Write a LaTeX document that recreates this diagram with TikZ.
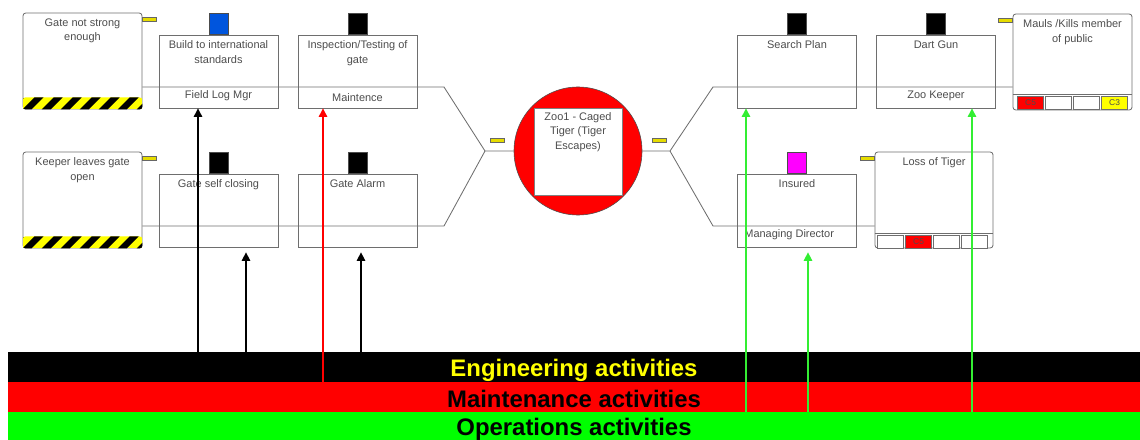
\documentclass[tikz,border=0pt]{standalone}
\usepackage{fontspec}
\setmainfont{Liberation Sans}
\usetikzlibrary{arrows.meta, positioning}
\definecolor{bline}{HTML}{6E6E6E}
\definecolor{btext}{HTML}{4D4D4D}
\definecolor{hyellow}{HTML}{FFFF00}
\definecolor{tabyellow}{HTML}{E6DC00}
\definecolor{bgreen}{HTML}{00FF00}
\definecolor{agreen}{HTML}{33EE33}
\definecolor{bred}{HTML}{FF0000}
\definecolor{iblue}{HTML}{0055DD}
\definecolor{imag}{HTML}{FF00FF}
\tikzset{
  box/.style={draw=bline, line width=0.6pt, minimum width=2.975cm,
              minimum height=1.825cm, inner sep=0pt},
  threat/.style={draw=bline, line width=0.6pt, rounded corners=2pt,
                 minimum width=2.975cm, minimum height=2.4cm, inner sep=0pt},
  btxt/.style={font=\fontsize{7.8}{10.5}\selectfont, text=btext, align=center, inner sep=1pt},
  flag/.style={draw=black!70, fill=#1, minimum width=0.475cm,
               minimum height=0.525cm, inner sep=0pt},
  tab/.style={draw=black!60, fill=tabyellow, minimum width=0.35cm,
              minimum height=0.1cm, inner sep=0pt},
  link/.style={draw=bline, line width=0.6pt},
  band/.style={minimum width=28.3cm, minimum height=0.75cm, inner sep=0pt,
               text depth=0pt, font=\fontsize{17}{17}\selectfont\bfseries},
  arr/.style={-{Triangle[length=6pt,width=6pt]}, line width=0.8pt, #1},
  cell/.style={draw=bline, fill=#1, minimum width=0.65cm, minimum height=0.325cm,
               inner sep=0pt, font=\fontsize{6}{6}\selectfont, text=black!70},
}
\begin{document}
\begin{tikzpicture}[x=0.025cm, y=-0.025cm]
  \useasboundingbox (0,0) rectangle (1140,440);

  % activity bands
  \node[band, fill=black, text=hyellow, text height=14.2pt] (eng) at (574,367) {Engineering activities};
  \node[band, fill=bred, text height=15.6pt] (mnt) at (574,397) {Maintenance activities};
  \node[band, fill=bgreen, minimum height=0.7cm, text height=12.8pt] (ops) at (574,426) {Operations activities};

  % threats
  \node[threat] (t1) at (82.5,61) {};
  \node[threat] (t2) at (82.5,200) {};
  \foreach \t in {t1,t2}{
    \begin{scope}
      \clip[rounded corners=2pt] ([yshift=0.3cm]\t.south west) rectangle (\t.south east);
      \fill[hyellow] ([yshift=0.3cm]\t.south west) rectangle (\t.south east);
      \foreach \s in {-1,...,6}
        \fill[black] ([xshift=\s*0.475cm]\t.south west) -- ++(9,0) -- ++(12,-12) -- ++(-9,0) -- cycle;
    \end{scope}
  }
  \node[btxt, below=3pt of t1.north] {Gate not strong\\enough};
  \node[btxt, below=3pt of t2.north] {Keeper leaves gate\\open};
  \node[tab, anchor=north west] at ([yshift=-2.8pt]t1.north east) {};
  \node[tab, anchor=north west] at ([yshift=-2.8pt]t2.north east) {};

  % barriers
  \node[box] (b1) at (218.5,71.5) {};
  \node[box] (b2) at (357.5,71.5) {};
  \node[box] (b3) at (218.5,210.5) {};
  \node[box] (b4) at (357.5,210.5) {};
  \node[box] (b5) at (797,71.5) {};
  \node[box] (b6) at (936,71.5) {};
  \node[box] (b7) at (797,210.5) {};
  \node[flag=iblue, above=0pt of b1] {};
  \node[flag=black, above=0pt of b2] {};
  \node[flag=black, above=0pt of b3] {};
  \node[flag=black, above=0pt of b4] {};
  \node[flag=black, above=0pt of b5] {};
  \node[flag=black, above=0pt of b6] {};
  \node[flag=imag, above=0pt of b7] {};
  \node[btxt, below=3pt of b1.north] {Build to international\\standards};
  \node[btxt, below=3pt of b2.north] {Inspection/Testing of\\gate};
  \node[btxt, below=3pt of b3.north] {Gate self closing};
  \node[btxt, below=3pt of b4.north] {Gate Alarm};
  \node[btxt, below=3pt of b5.north] {Search Plan};
  \node[btxt, below=3pt of b6.north] {Dart Gun};
  \node[btxt, below=3pt of b7.north] {Insured};
  \node[btxt, above=4pt of b1.south] {Field Log Mgr};
  \node[btxt, above=4pt of b2.south] {Maintence};
  \node[btxt, above=4pt of b6.south] {Zoo Keeper};
  \node[btxt, above right=4pt and 4pt of b7.south west] {Managing Director};

  % top event
  \node[circle, draw=black!70, fill=bred, minimum size=3.2cm] (top) at (578,151) {};
  \node[draw=black!50, fill=white, minimum width=2.2cm, minimum height=2.175cm,
        inner sep=0pt] (te) at (578,151.5) {};
  \node[btxt, below=2pt of te.north] {Zoo1 - Caged\\Tiger (Tiger\\Escapes)};
  \node[tab] at (497.5,140) {};
  \node[tab] at (659,140) {};

  % consequences
  \node[threat, minimum width=2.95cm] (c1) at (934,200) {};
  \node[threat, minimum height=2.4cm] (c2) at (1072.5,62) {};
  \draw[link] ([yshift=0.375cm]c1.south west) -- ([yshift=0.375cm]c1.south east);
  \draw[link] ([yshift=0.4cm]c2.south west) -- ([yshift=0.4cm]c2.south east);
  \foreach \i/\c/\l in {0/white/,1/bred/C5,2/white/,3/white/}
    \node[cell=\c] at ([xshift={(16+\i*28)*0.025cm}, yshift=0.175cm]c1.south west) {\l};
  \foreach \i/\c/\l in {0/bred/C5,1/white/,2/white/,3/hyellow/C3}
    \node[cell=\c] at ([xshift={(18+\i*28)*0.025cm}, yshift=0.2cm]c2.south west) {\l};
  \node[btxt, below=3pt of c1.north] {Loss of Tiger};
  \node[btxt, below=3pt of c2.north] {Mauls /Kills member\\of public};
  \node[tab, anchor=north east] at ([yshift=-2.8pt]c1.north west) {};
  \node[tab, anchor=north east] at ([yshift=-2.8pt]c2.north west) {};

  % pathways
  \coordinate (jl) at (485,151);
  \coordinate (jr) at (670,151);
  \coordinate (kl1) at (444,87);
  \coordinate (kl2) at (444,226);
  \coordinate (kr1) at (713,87);
  \coordinate (kr2) at (713,226);
  \draw[link] (t1.east |- kl1) -- (kl1) -- (jl) -- (top.west);
  \draw[link] (t2.east |- kl2) -- (kl2) -- (jl);
  \draw[link] (top.east) -- (jr) -- (kr1) -- (kr1 -| c2.west);
  \draw[link] (jr) -- (kr2) -- (kr2 -| c1.west);

  % activity links
  \coordinate (a1) at (198,0);
  \coordinate (a2) at (246,0);
  \coordinate (a3) at (323,0);
  \coordinate (a4) at (361,0);
  \coordinate (a5) at (746,0);
  \coordinate (a6) at (808,0);
  \coordinate (a7) at (972,0);
  \draw[arr=black] (eng.north -| a1) -- (b1.south -| a1);
  \draw[arr=black, shorten >=3.5pt] (eng.north -| a2) -- (b3.south -| a2);
  \draw[arr=bred] (mnt.north -| a3) -- (b2.south -| a3);
  \draw[arr=black, shorten >=3.5pt] (eng.north -| a4) -- (b4.south -| a4);
  \draw[arr=agreen] (ops.north -| a5) -- (b5.south -| a5);
  \draw[arr=agreen, shorten >=3.5pt] (ops.north -| a6) -- (b7.south -| a6);
  \draw[arr=agreen] (ops.north -| a7) -- (b6.south -| a7);
\end{tikzpicture}
\end{document}
